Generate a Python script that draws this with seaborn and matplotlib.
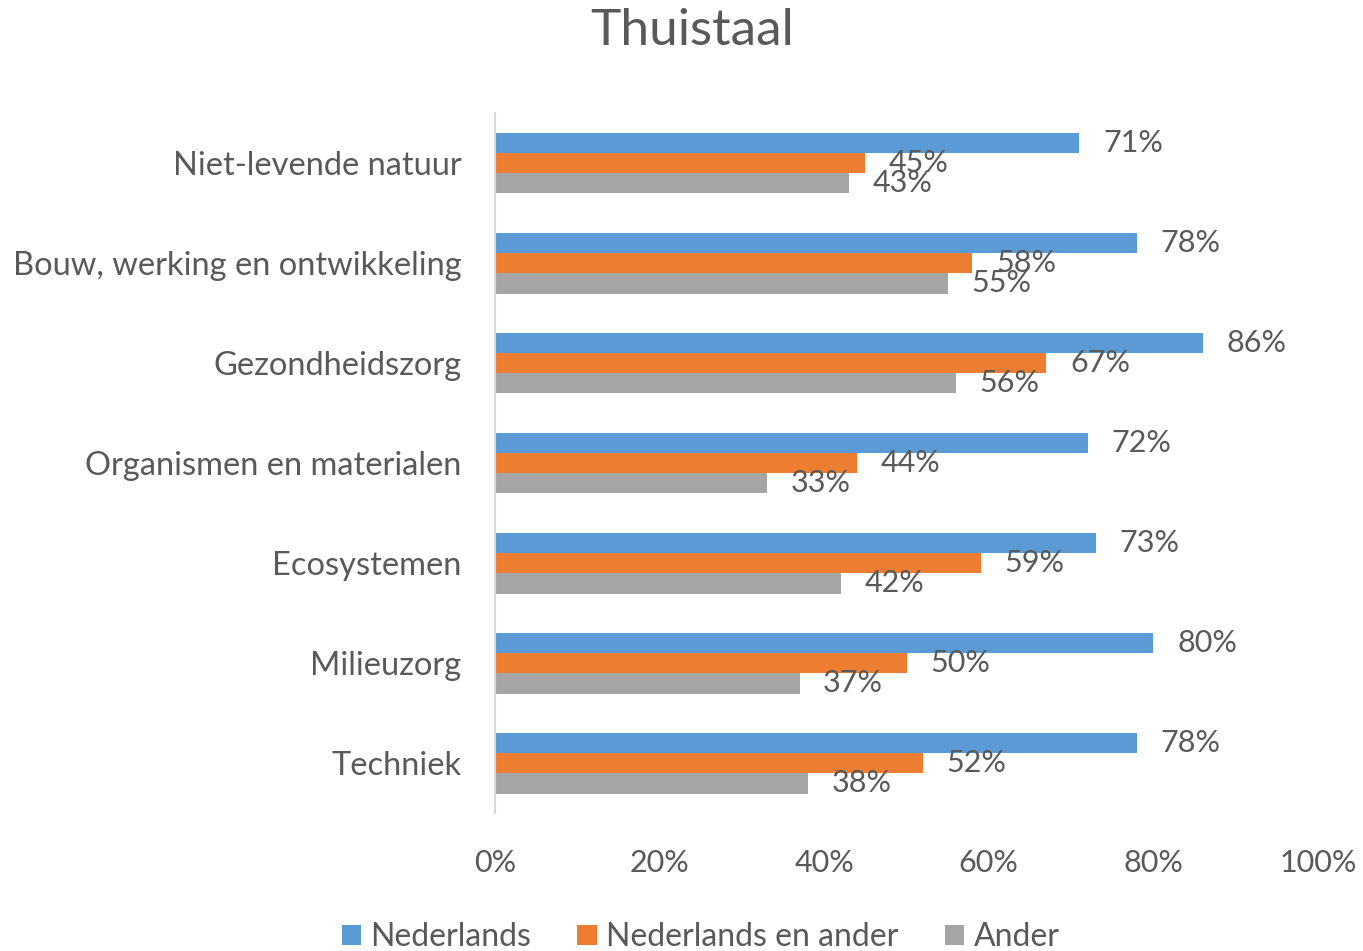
import matplotlib
matplotlib.use("Agg")
import matplotlib.pyplot as plt
from matplotlib.patches import Patch
import seaborn as sns
import pandas as pd

categories = ["Niet-levende natuur", "Bouw, werking en ontwikkeling", "Gezondheidszorg",
              "Organismen en materialen", "Ecosystemen", "Milieuzorg", "Techniek"]
series = ["Nederlands", "Nederlands en ander", "Ander"]
nederlands = [71, 78, 86, 72, 73, 80, 78]
nederlands_en_ander = [45, 58, 67, 44, 59, 50, 52]
ander = [43, 55, 56, 33, 42, 37, 38]
colors = ["#5B9BD5", "#ED7D31", "#A5A5A5"]
xticks = [0, 20, 40, 60, 80, 100]
xticklabels = ["0%", "20%", "40%", "60%", "80%", "100%"]
title = "Thuistaal"

sns.set_theme(style="white")
plt.rcParams["font.family"] = ["Lato", "DejaVu Sans"]
TXT = "#595959"

rows = []
for s, vals in zip(series, [nederlands, nederlands_en_ander, ander]):
    for c, v in zip(categories, vals):
        rows.append({"cat": c, "serie": s, "val": v})
df = pd.DataFrame(rows)

fig = plt.figure(figsize=(13.63, 9.51), dpi=100)
ax = fig.add_axes([495 / 1363, 1 - 813 / 951, (1318 - 495) / 1363, 700 / 951])

sns.barplot(data=df, y="cat", x="val", hue="serie", order=categories, hue_order=series,
            palette=colors, orient="h", width=0.61, ax=ax, legend=False,
            saturation=1, edgecolor="none", linewidth=0)

for cont in ax.containers:
    ax.bar_label(cont, labels=[f"{int(round(v))}%" for v in cont.datavalues],
                 padding=17, fontsize=22, color=TXT)

ax.set_xlim(0, 100)
ax.set_xticks(xticks)
ax.set_xticklabels(xticklabels)
ax.set_xlabel("")
ax.set_ylabel("")
for sp in ["top", "right", "bottom"]:
    ax.spines[sp].set_visible(False)
ax.spines["left"].set_color("#D9D9D9")
ax.spines["left"].set_linewidth(1.5)
ax.tick_params(axis="x", length=0, pad=26, labelsize=22, labelcolor=TXT)
ax.tick_params(axis="y", length=0, pad=24, labelsize=23.5, labelcolor=TXT)
ax.grid(False)

fig.text(0.508, 1 - 31 / 951, title, ha="center", va="center", fontsize=37, color=TXT)

handles = [Patch(facecolor=c, edgecolor="none") for c in colors]
fig.legend(handles, series, loc="center", bbox_to_anchor=(0.514, 1 - 937 / 951), ncol=3,
           frameon=False, fontsize=23, labelcolor=TXT, handlelength=0.6, handleheight=0.6,
           handletextpad=0.3, columnspacing=1.45, borderaxespad=0)

fig.savefig("out.png", dpi=100)
